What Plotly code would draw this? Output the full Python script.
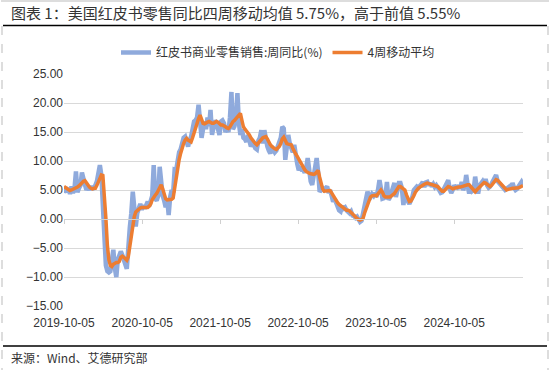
import pandas as pd
import plotly.graph_objects as go

start_date = "2019-10-05"

redbook_yoy = [
    4.5, 5.5, 4.6, 5.4, 4.3, 5.6, 4.5, 5.2, 8.2, 4.6,
    5.3, 5.8, 8.0, 6.4, 5.9, 5.0, 5.5, 5.0, 5.7, 5.1,
    5.4, 5.8, 6.5, 8.6, 9.3, 7.5, 2.0, -4.0, -8.0, -9.0,
    -9.2, -9.0, -7.5, -5.3, -8.5, -10.0, -7.0, -6.0, -5.6, -6.2,
    -7.4, -7.8, -8.6, -4.0, -1.5, 1.0, 4.7, 2.0, -1.3, 1.0,
    2.2, 2.6, 1.6, 2.4, 1.8, 2.3, 3.0, 2.2, 3.5, 4.0,
    9.3, 3.5, 3.2, 4.0, 9.0, 5.5, 4.0, 3.2, 2.0, 3.5,
    0.7, 3.8, 5.0, 4.5, 8.5, 8.4, 10.5, 11.5, 12.0, 13.5,
    14.0, 14.2, 13.0, 12.5, 13.6, 14.2, 15.5, 16.8, 17.0, 17.5,
    19.7, 16.0, 14.0, 15.5, 16.8, 15.5, 17.5, 16.0, 18.8, 14.5,
    16.0, 17.0, 16.5, 15.5, 14.5, 16.8, 17.0, 16.5, 15.0, 15.5,
    15.0, 17.5, 21.9, 15.5, 16.0, 17.5, 21.7, 16.5, 14.5, 15.5,
    14.0, 13.8, 13.3, 14.5, 13.5, 12.5, 13.0, 12.8, 12.2, 12.0,
    13.5, 14.0, 15.3, 13.0, 15.3, 13.5, 12.5, 11.8, 11.3, 12.5,
    12.0, 11.5, 11.8, 12.5, 13.5, 14.0, 15.9, 15.6, 10.2, 12.5,
    14.5, 13.0, 12.0, 11.5, 12.8, 10.5, 9.5, 8.4, 9.0, 8.5,
    8.5, 8.0, 8.8, 10.5, 7.5, 6.5, 5.9, 7.5, 8.5, 10.5,
    8.0, 4.7, 5.0, 5.3, 5.0, 5.4, 5.6, 4.5, 5.0, 4.0,
    3.0, 3.5, 2.8, 2.5, 1.5, 1.3, 2.2, 1.8, 2.0, 1.5,
    1.2, 1.0, 1.3, 0.6, 0.5, 0.2, 0.4, -0.2, -0.5, -0.3,
    1.0, 2.5, 3.5, 4.7, 4.0, 3.8, 4.3, 4.0, 4.5, 3.8,
    5.0, 6.7, 5.3, 3.5, 3.6, 4.0, 6.4, 3.3, 3.7, 4.5,
    5.0, 6.2, 3.8, 5.5, 6.2, 6.2, 5.3, 2.4, 4.5, 3.5,
    2.8, 2.6, 3.2, 3.8, 5.0, 5.5, 5.6, 5.4, 5.6, 6.0,
    6.4, 5.5, 6.3, 6.4, 5.8, 6.2, 5.6, 6.0, 5.5, 5.8,
    5.4, 4.8, 4.5, 4.6, 5.2, 5.8, 6.0, 6.7, 5.2, 4.5,
    5.0, 5.8, 5.5, 5.4, 5.8, 5.2, 6.4, 5.0, 5.6, 7.6,
    5.8, 4.4, 5.5, 4.8, 5.0, 7.3, 5.5, 4.4, 5.8, 6.2,
    6.5, 6.0, 6.9, 5.8, 5.4, 5.6, 6.2, 6.8, 7.2, 7.6,
    6.5, 6.2, 5.8, 5.5, 5.2, 5.0, 5.2, 5.4, 5.6, 5.2,
    6.2, 5.4, 5.0, 5.2, 5.8, 6.0, 6.4, 5.9,
]

ma4 = [
    5.6, 5.4, 5.2, 5.0, 4.9, 5.0, 5.1, 5.2, 5.3, 5.5,
    5.7, 6.0, 6.2, 6.5, 6.6, 6.2, 5.8, 5.5, 5.3, 5.2,
    5.3, 5.3, 5.8, 6.4, 7.0, 7.6, 7.5, 4.5, 0.2, -4.5,
    -7.0, -8.0, -8.2, -7.8, -7.6, -7.5, -7.5, -7.3, -6.6, -6.4,
    -6.6, -6.8, -7.1, -6.5, -4.8, -2.5, -1.0, 0.4, 1.2, 1.5,
    1.8, 1.9, 2.0, 2.0, 2.0, 1.9, 2.0, 2.2, 2.6, 3.3,
    3.8, 4.1, 4.4, 5.0, 5.6, 5.9, 5.2, 4.5, 3.5, 3.3,
    3.3, 3.3, 3.4, 3.6, 5.5, 7.5, 9.0, 10.2, 11.3, 12.3,
    13.0, 13.6, 13.9, 13.6, 13.4, 13.3, 14.0, 14.9, 15.6, 16.5,
    17.3, 17.9, 17.2, 16.5, 16.4, 16.6, 16.7, 16.8, 16.6, 16.5,
    16.5, 16.6, 16.8, 16.7, 16.4, 16.2, 16.2, 16.1, 15.9, 15.7,
    15.6, 15.9, 16.5, 16.8, 17.0, 17.3, 17.6, 18.0, 18.2, 17.0,
    15.9, 15.5, 15.2, 15.0, 14.5, 14.0, 13.6, 13.3, 13.0, 12.8,
    13.1, 13.5, 13.9, 14.0, 14.1, 14.2, 13.8, 13.2, 12.8, 12.5,
    12.2, 12.1, 12.0, 12.2, 12.5, 13.0, 13.8, 14.1, 13.6, 13.0,
    12.9, 12.8, 12.8, 12.2, 11.6, 11.2, 10.8, 10.3, 9.7, 9.3,
    8.9, 8.5, 8.2, 8.0, 7.9, 7.8, 7.7, 7.7, 7.8, 8.1,
    8.4, 7.2, 5.8, 5.2, 4.8, 4.8, 4.9, 4.9, 4.9, 4.5,
    4.0, 3.6, 3.2, 2.8, 2.5, 2.3, 2.0, 1.8, 1.6, 1.5,
    1.5, 1.4, 1.1, 0.8, 0.5, 0.3, 0.1, -0.1, -0.2, -0.1,
    0.1, 1.0, 1.8, 2.6, 3.4, 3.8, 4.0, 4.1, 4.1, 4.0,
    4.3, 4.7, 5.0, 4.6, 4.0, 3.8, 3.8, 3.8, 3.8, 4.0,
    4.2, 4.4, 4.8, 5.3, 5.6, 5.6, 5.4, 5.2, 5.0, 4.2,
    3.4, 3.0, 3.1, 3.5, 4.0, 4.6, 5.0, 5.3, 5.5, 5.7,
    5.9, 6.0, 6.1, 6.2, 6.1, 6.0, 5.9, 5.9, 5.8, 5.7,
    5.6, 5.3, 5.0, 4.8, 4.8, 5.1, 5.4, 5.6, 5.5, 5.3,
    5.2, 5.3, 5.4, 5.5, 5.5, 5.5, 5.6, 5.6, 5.7, 5.8,
    5.9, 5.9, 5.6, 5.2, 4.9, 4.7, 5.0, 5.3, 5.6, 5.9,
    6.1, 6.3, 6.2, 6.0, 5.8, 5.6, 5.8, 6.1, 6.5, 6.8,
    6.7, 6.4, 6.0, 5.8, 5.5, 5.2, 5.0, 5.1, 5.2, 5.3,
    5.3, 5.3, 5.3, 5.4, 5.4, 5.5, 5.55, 5.75,
]

tick_labels = ["2019-10-05", "2020-10-05", "2021-10-05",
               "2022-10-05", "2023-10-05", "2024-10-05"]

series_names = ["红皮书商业零售销售:周同比(%)", "4周移动平均"]
title_text = "图表 1：美国红皮书零售同比四周移动均值 5.75%，高于前值 5.55%"
source_text = "来源：Wind、艾德研究部"

dates = pd.date_range(start_date, periods=len(redbook_yoy), freq="7D")
x_range = [dates[0], dates[-1]]

BLUE = "#8FAADC"
ORANGE = "#ED7D31"
FONT = "Noto Sans CJK SC"
W, H = 550, 370
L, R, T, B = 64, 27, 74, 64

fig = go.Figure()
fig.add_trace(go.Scatter(x=dates, y=redbook_yoy, name=series_names[0], mode="lines",
                         line=dict(color=BLUE, width=4.5)))
fig.add_trace(go.Scatter(x=dates, y=ma4[:len(dates)], name=series_names[1], mode="lines",
                         xaxis="x2", line=dict(color=ORANGE, width=3.5)))

fig.update_layout(
    width=W, height=H,
    margin=dict(l=L, r=R, t=T, b=B, autoexpand=False),
    paper_bgcolor="white", plot_bgcolor="white",
    font=dict(family=FONT, size=12, color="#333333"),
    showlegend=True,
    legend=dict(orientation="h", x=116 / W, y=1 - 38 / H, xref="container", yref="container",
                xanchor="left", yanchor="top",
                font=dict(size=12, color="#333333"),
                itemwidth=30, tracegroupgap=0, bgcolor="rgba(0,0,0,0)"),
    xaxis=dict(type="date", range=x_range, tickvals=tick_labels, ticktext=tick_labels,
               showgrid=False, zeroline=False, showline=False, automargin=False,
               ticks="outside", ticklen=6, tickcolor="rgba(0,0,0,0)",
               tickfont=dict(family="Liberation Sans", size=12, color="#333333")),
    xaxis2=dict(type="date", range=x_range, overlaying="x", anchor="free", position=0.375,
                tickvals=tick_labels, showticklabels=False, showgrid=False, zeroline=False,
                showline=True, linecolor="#D0D0D0", linewidth=1, automargin=False,
                ticks="outside", ticklen=4, tickcolor="#D0D0D0", tickwidth=1),
    yaxis=dict(range=[-15, 25], dtick=5, tick0=0, tickformat=".2f", automargin=False,
               showgrid=True, gridcolor="#D9D9D9", gridwidth=1,
               zeroline=False, showline=False, ticks="",
               tickfont=dict(family="Liberation Sans", size=12, color="#333333")),
)


def px_x(px):
    return (px - L) / (W - L - R)


def px_y(py):
    return (H - B - py) / (H - T - B)


# title, separator lines, frame and source note
fig.add_annotation(text=title_text, xref="paper", yref="paper", x=px_x(9), y=px_y(13),
                   xanchor="left", yanchor="middle", showarrow=False,
                   font=dict(family=FONT, size=15, color="#333333"))
fig.add_annotation(text=source_text, xref="paper", yref="paper", x=px_x(9), y=px_y(357),
                   xanchor="left", yanchor="middle", showarrow=False,
                   font=dict(family=FONT, size=12, color="#333333"))

fig.add_shape(type="line", xref="paper", yref="paper", x0=px_x(3), x1=px_x(547),
              y0=px_y(25.5), y1=px_y(25.5), line=dict(color="black", width=1.5))
fig.add_shape(type="line", xref="paper", yref="paper", x0=px_x(3), x1=px_x(547),
              y0=px_y(346), y1=px_y(346), line=dict(color="black", width=1.5))
fig.add_shape(type="line", xref="paper", yref="paper", x0=px_x(1), x1=px_x(549),
              y0=px_y(1), y1=px_y(1), line=dict(color="#BBBBBB", width=1))
for xp in (2, 548):
    fig.add_shape(type="line", xref="paper", yref="paper", x0=px_x(xp), x1=px_x(xp),
                  y0=px_y(26), y1=px_y(370), line=dict(color="#BBBBBB", width=1, dash="dash"))

fig.write_html("out.html",
               config={"displayModeBar": False},
               post_script="document.body.style.margin='0';document.body.style.padding='0';"
                           "document.body.style.overflow='hidden';")
